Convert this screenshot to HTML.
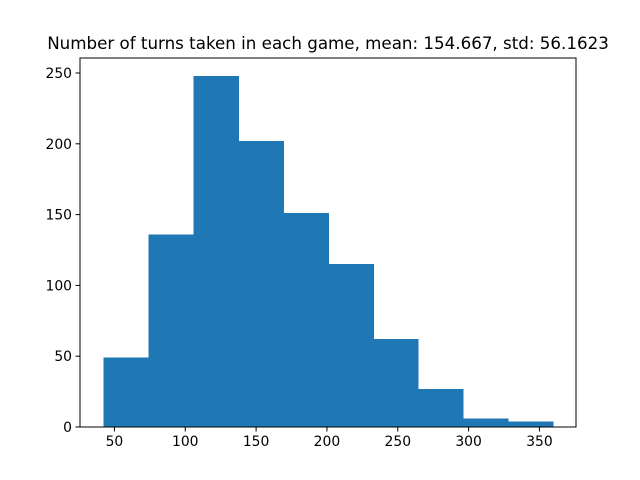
<!DOCTYPE html>
<html><head><meta charset="utf-8"><style>
body{margin:0;background:#fff;}
svg{display:block;font-family:"DejaVu Sans","Liberation Sans",sans-serif;}
</style></head><body>
<svg id="chart" width="640" height="480">
<text x="328" y="49" text-anchor="middle" font-size="16.7">Number of turns taken in each game, mean: 154.667, std: 56.1623</text>
<g id="bars" shape-rendering="crispEdges"></g>
<g id="axes"></g>
</svg>
<script>
const binStart = 42.2;
const binWidth = 31.75;
const counts = [49, 136, 248, 202, 151, 115, 62, 27, 6, 4];
const xTicks = [50, 100, 150, 200, 250, 300, 350];
const yTicks = [0, 50, 100, 150, 200, 250];
const L=80,R=576,T=58,B=427;
const xMin=25.7, xMax=375.8, yMax=260.6;
const sx=v=>L+(v-xMin)/(xMax-xMin)*(R-L);
const sy=v=>B-v/yMax*(B-T);
const NS="http://www.w3.org/2000/svg";
const bars=document.getElementById('bars'), axes=document.getElementById('axes');
function mk(tag,attrs,parent){const e=document.createElementNS(NS,tag);for(const k in attrs)e.setAttribute(k,attrs[k]);parent.appendChild(e);return e;}
counts.forEach((c,i)=>{
  const x0=sx(binStart+i*binWidth), x1=sx(binStart+(i+1)*binWidth);
  const r=mk('rect',{x:x0,y:sy(c),width:x1-x0+0.5,height:B-sy(c),fill:'#1f77b4'},bars);
  
  
});
const frame=mk('rect',{x:L,y:T,width:R-L,height:B-T,fill:'none',stroke:'#000','stroke-width':1},axes);


xTicks.forEach(v=>{
  const x=sx(v);
  mk('line',{x1:x,x2:x,y1:B,y2:B+4.5,stroke:'#000'},axes);
  const t=mk('text',{x:x,y:B+19,'text-anchor':'middle','font-size':'13.9'},axes);
  t.textContent=v;
  
  
});
yTicks.forEach(v=>{
  const y=sy(v);
  mk('line',{x1:L,x2:L-4.5,y1:y,y2:y,stroke:'#000'},axes);
  const t=mk('text',{x:L-8,y:y+5,'text-anchor':'end','font-size':'13.9'},axes);
  t.textContent=v;
  
  
});
</script>
</body></html>
